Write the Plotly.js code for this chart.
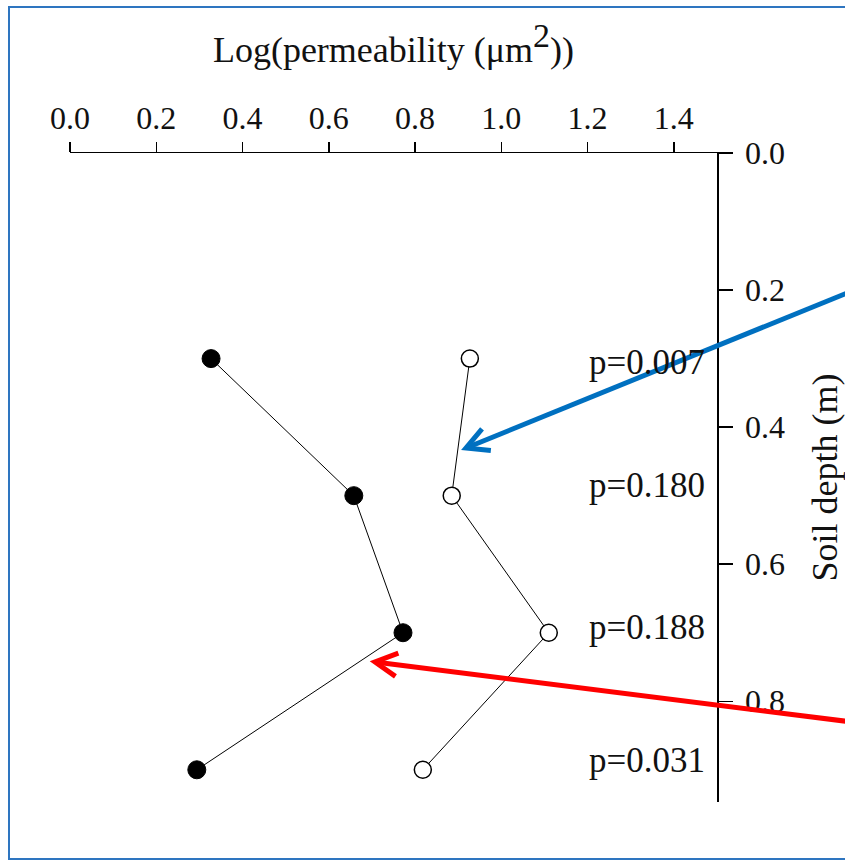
<!DOCTYPE html>
<html>
<head>
<meta charset="utf-8">
<script src="https://cdn.plot.ly/plotly-3.0.1.min.js"></script>
<style>
  html, body { margin: 0; padding: 0; background: #fff; }
  #wrap { position: relative; width: 845px; height: 863px; overflow: hidden; }
  #chart { width: 845px; height: 863px; }
  #frame { position: absolute; left: 8px; top: 6px; width: 860px; height: 854px;
           border: 2px solid #2E75C0; pointer-events: none; box-sizing: border-box; }
</style>
</head>
<body>
<div id="wrap"><div id="chart"></div><div id="frame"></div></div>
<script>
// Soil depth (m)
const depths = [0.3, 0.5, 0.7, 0.9];
// Log(permeability) – filled series
const filledSeries = [0.327, 0.658, 0.772, 0.294];
// Log(permeability) – open series
const openSeries = [0.927, 0.885, 1.110, 0.818];
// p-value labels and their depths
const pLabels = ['p=0.007', 'p=0.180', 'p=0.188', 'p=0.031'];
const pDepths = [0.305, 0.485, 0.693, 0.886];
// tick values / labels
const xTicks = [0.0, 0.2, 0.4, 0.6, 0.8, 1.0, 1.2, 1.4];
const xTickLabels = ['0.0', '0.2', '0.4', '0.6', '0.8', '1.0', '1.2', '1.4'];
const yTicks = [0.0, 0.2, 0.4, 0.6, 0.8];
const yTickLabels = ['0.0', '0.2', '0.4', '0.6', '0.8'];

const FONT = 'Liberation Serif, Times New Roman, serif';
const W = 845, H = 863;
const M = { l: 70, r: 128, t: 153, b: 61 };

// pixel -> paper helpers for the call-out arrows
const pw = W - M.l - M.r, ph = H - M.t - M.b;
const px = v => (v - M.l) / pw;
const py = v => 1 - (v - M.t) / ph;

function arrowShapes(head, tail, color) {
  const dx = tail[0] - head[0], dy = tail[1] - head[1];
  const len = Math.hypot(dx, dy);
  const ux = dx / len, uy = dy / len;
  const a = 28 * Math.PI / 180, L = 25;
  const rot = s => [head[0] + L * (ux * Math.cos(s * a) - uy * Math.sin(s * a)),
                    head[1] + L * (ux * Math.sin(s * a) + uy * Math.cos(s * a))];
  const p1 = rot(1), p2 = rot(-1);
  const line = { color: color, width: 5 };
  return [
    { type: 'line', xref: 'paper', yref: 'paper', x0: px(tail[0]), y0: py(tail[1]),
      x1: px(head[0] + ux * 2), y1: py(head[1] + uy * 2), line: line },
    { type: 'path', xref: 'paper', yref: 'paper',
      path: `M${px(p1[0])},${py(p1[1])} L${px(head[0])},${py(head[1])} L${px(p2[0])},${py(p2[1])}`,
      line: line }
  ];
}

const traces = [
  {
    x: filledSeries, y: depths, type: 'scatter', mode: 'lines+markers',
    line: { color: '#000', width: 1 },
    marker: { symbol: 'circle', size: 18, color: '#000', line: { color: '#000', width: 1 } },
    cliponaxis: false, showlegend: false
  },
  {
    x: openSeries, y: depths, type: 'scatter', mode: 'lines+markers',
    line: { color: '#000', width: 1 },
    marker: { symbol: 'circle', size: 17, color: '#fff', line: { color: '#000', width: 1.5 } },
    cliponaxis: false, showlegend: false
  }
];

const annotations = pLabels.map((t, i) => ({
  x: 1.5, y: pDepths[i], xref: 'x', yref: 'y', text: t, showarrow: false,
  xanchor: 'right', yanchor: 'middle', xshift: -10,
  font: { family: FONT, size: 35, color: '#111' }
}));

const shapes = [].concat(
  arrowShapes([466, 448], [852, 291], '#0070C0'),
  arrowShapes([375, 662], [852, 722], '#FF0000')
);

const layout = {
  width: W, height: H,
  margin: M,
  paper_bgcolor: '#fff', plot_bgcolor: '#fff',
  font: { family: FONT, size: 32, color: '#111' },
  showlegend: false,
  xaxis: {
    side: 'top', range: [0, 1.5], tickmode: 'array', tickvals: xTicks, ticktext: xTickLabels,
    ticks: 'outside', ticklen: 10, tickwidth: 1.5, tickcolor: '#000',
    showline: true, linecolor: '#000', linewidth: 1.5, mirror: false,
    showgrid: false, zeroline: false, ticklabelstandoff: 0,
    tickfont: { family: FONT, size: 32, color: '#111' },
    title: { text: 'Log(permeability (μm<sup><span style="font-size:34px">2</span></sup>))', standoff: 26,
             font: { family: FONT, size: 36, color: '#111' } }
  },
  yaxis: {
    side: 'right', range: [0.947, 0], tickmode: 'array', tickvals: yTicks, ticktext: yTickLabels,
    ticks: 'outside', ticklen: 14, tickwidth: 1.5, tickcolor: '#000',
    showline: true, linecolor: '#000', linewidth: 1.5, mirror: false,
    showgrid: false, zeroline: false, ticklabelstandoff: 6,
    tickfont: { family: FONT, size: 32, color: '#111' },
    title: { text: 'Soil depth (m)', standoff: 40,
             font: { family: FONT, size: 36, color: '#111' } }
  },
  annotations: annotations,
  shapes: shapes
};

Plotly.newPlot('chart', traces, layout, { staticPlot: true, displayModeBar: false });
</script>
</body>
</html>
